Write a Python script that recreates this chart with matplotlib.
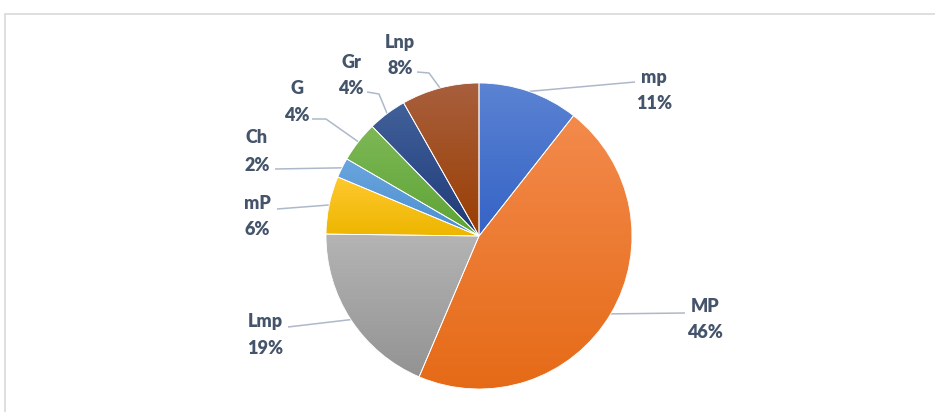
import numpy as np
import matplotlib.pyplot as plt
from matplotlib.colors import LinearSegmentedColormap
from matplotlib.patches import Rectangle

labels = ['mp', 'MP', 'Lmp', 'mP', 'Ch', 'G', 'Gr', 'Lnp']
shares = [10.6, 45.8, 18.8, 6.1, 2.1, 4.3, 4.1, 8.2]
colors = ['#4472C4', '#ED7D31', '#A5A5A5', '#FFC000',
          '#5B9BD5', '#70AD47', '#264478', '#9E480E']
# gradient ends (top, bottom) for each slice
shades = [('#5B83D3', '#3563C6'), ('#F38A4C', '#E56A16'),
          ('#B4B4B4', '#939393'), ('#FFC82E', '#EDB600'),
          ('#6BA6DD', '#4A8ED2'), ('#7DB856', '#5EA335'),
          ('#42609A', '#1E3B78'), ('#A85F3D', '#9A3E02')]

# layout in pixels: pie centre / radius, label text spots, leader ends
CX, CY, R = 479, 236, 153
text_xy = [(654, 78, 103), (705, 306, 332), (265, 322, 349), (257, 203, 229),
           (257, 137, 165), (297, 88, 115), (351, 62, 88), (400, 42, 68)]
leader_pts = [[(635, 82)], [(685, 313)], [(288, 327)], [(277, 209)],
              [(275, 169)], [(326, 119), (312, 119)],
              [(379, 94), (367, 92)], [(429, 73), (417, 72)]]


def px(x, y):
    return (x - CX) / R, (CY - y) / R


plt.rcParams['font.family'] = ['Lato', 'DejaVu Sans']

fig = plt.figure(figsize=(9.35, 4.12), dpi=100)
ax = fig.add_axes([0, 0, 1, 1])

wedges, _ = ax.pie(shares, colors=colors, startangle=90, counterclock=False,
                   radius=1, wedgeprops=dict(edgecolor='white', linewidth=0.6))

# vertical gradient inside each slice, lighter at the top
grad = np.linspace(0, 1, 256).reshape(-1, 1)
for w, (top, bot) in zip(wedges, shades):
    v = w.get_path().vertices
    x0, x1 = v[:, 0].min(), v[:, 0].max()
    y0, y1 = v[:, 1].min(), v[:, 1].max()
    cmap = LinearSegmentedColormap.from_list('g', [top, bot])
    im = ax.imshow(grad, cmap=cmap, extent=(x0, x1, y0, y1), origin='upper',
                   aspect='auto', zorder=1.5, interpolation='bilinear')
    im.set_clip_path(w)
    w.set_facecolor('none')
    w.set_zorder(2)

# labels with leader lines
for w, lab, val, (tx, ty1, ty2), pts in zip(wedges, labels, shares,
                                            text_xy, leader_pts):
    mid = np.deg2rad((w.theta1 + w.theta2) / 2)
    xs = [np.cos(mid)] + [px(*p)[0] for p in pts]
    ys = [np.sin(mid)] + [px(*p)[1] for p in pts]
    ax.plot(xs, ys, color='#ADB9CA', lw=1.1, zorder=1, solid_capstyle='butt')
    ax.text(*px(tx, ty1), lab, ha='center', va='center', fontsize=13,
            fontweight='heavy', color='#44546A')
    ax.text(*px(tx, ty2), '%.0f%%' % val, ha='center', va='center',
            fontsize=13, fontweight='heavy', color='#44546A')

ax.set_xlim(px(0, 0)[0], px(935, 0)[0])
ax.set_ylim(px(0, 412)[1], px(0, 0)[1])
ax.set_aspect('auto')
ax.set_axis_off()

fig.patches.append(Rectangle((5 / 935, -0.1), 1.2, 1.1 - 14 / 412,
                             transform=fig.transFigure, fill=False,
                             edgecolor='#D9D9D9', lw=1.2))

fig.savefig('out.png', dpi=100)
